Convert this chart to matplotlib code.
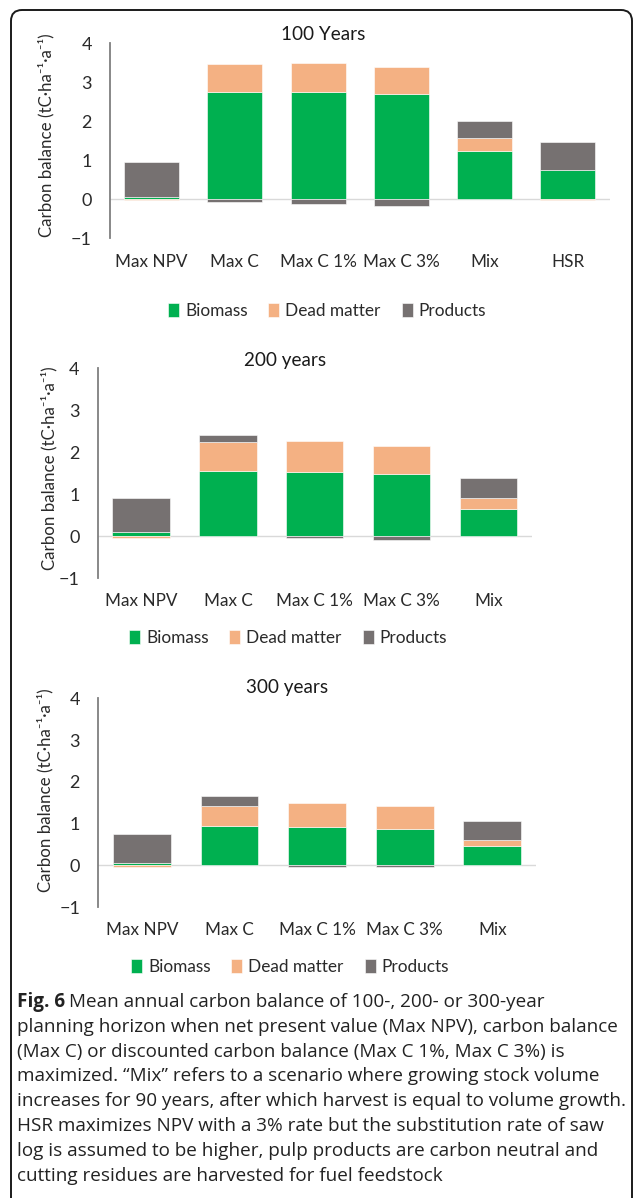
import matplotlib
matplotlib.use("Agg")
import matplotlib.pyplot as plt
import numpy as np
from matplotlib.patches import FancyBboxPatch
from matplotlib.transforms import IdentityTransform

plt.rcParams['font.family'] = ['Lato', 'DejaVu Sans']

# Carbon balance components (tC/ha/a) per scenario, three planning horizons
scen_100 = ["Max NPV", "Max C", "Max C 1%", "Max C 3%", "Mix", "HSR"]
biomass_100 = [0.07, 2.76, 2.76, 2.70, 1.24, 0.75]
dead_100 = [-0.03, 0.70, 0.73, 0.70, 0.32, -0.03]
products_100 = [0.88, -0.07, -0.12, -0.18, 0.45, 0.73]

scen_200 = ["Max NPV", "Max C", "Max C 1%", "Max C 3%", "Mix"]
biomass_200 = [0.10, 1.55, 1.52, 1.47, 0.65]
dead_200 = [-0.05, 0.70, 0.74, 0.68, 0.25]
products_200 = [0.80, 0.17, -0.05, -0.10, 0.49]

scen_300 = ["Max NPV", "Max C", "Max C 1%", "Max C 3%", "Mix"]
biomass_300 = [0.06, 0.94, 0.91, 0.88, 0.45]
dead_300 = [-0.04, 0.48, 0.58, 0.53, 0.16]
products_300 = [0.68, 0.25, -0.04, -0.04, 0.44]

series_names = ["Biomass", "Dead matter", "Products"]
colors = ["#00B050", "#F4B183", "#767171"]

W, H = 633, 1198
fig = plt.figure(figsize=(W / 100, H / 100), dpi=100)

TXT = "#2A2A2A"


def px_axes(x0, x1, ytop, ybot):
    return fig.add_axes([x0 / W, 1 - ybot / H, (x1 - x0) / W, (ybot - ytop) / H])


def stacked(ax, cats, data, width):
    x = np.arange(len(cats))
    pos = np.zeros(len(cats))
    neg = np.zeros(len(cats))
    for vals, name, col in zip(data, series_names, colors):
        vals = np.array(vals)
        bottom = np.where(vals >= 0, pos, neg)
        ax.bar(x, vals, width, bottom=bottom, color=col, label=name,
               edgecolor="white", linewidth=0.4)
        pos = pos + np.clip(vals, 0, None)
        neg = neg + np.clip(vals, None, 0)
    ax.axhline(0, color="#D9D9D9", lw=1.0, zorder=0)
    ax.set_xlim(-0.5, len(cats) - 0.5)
    ax.set_ylim(-1, 4)
    ax.set_yticks([-1, 0, 1, 2, 3, 4])
    ax.set_xticks(x)
    ax.set_xticklabels(cats)
    for s in ["top", "right", "bottom"]:
        ax.spines[s].set_visible(False)
    ax.spines["left"].set_color("#7F7F7F")
    ax.spines["left"].set_linewidth(1.3)
    ax.tick_params(axis="y", length=0, pad=13, labelsize=13, labelcolor=TXT)
    ax.tick_params(axis="x", length=0, pad=11, labelsize=12.3, labelcolor=TXT)


panels = [
    (scen_100, [biomass_100, dead_100, products_100], (110, 609.5, 43.3, 238.3),
     "100 Years", (323, 34.7), (46, 135), (327, 310.7)),
    (scen_200, [biomass_200, dead_200, products_200], (97.7, 531.7, 368.3, 578),
     "200 years", (285, 360.7), (49, 468), (288, 637.7)),
    (scen_300, [biomass_300, dead_300, products_300], (98.1, 536, 698.3, 907),
     "300 years", (287, 688), (45, 790), (290, 966.7)),
]

for cats, data, box, title, tpos, ypos, lpos in panels:
    ax = px_axes(*box)
    stacked(ax, cats, data, 0.66)
    fig.text(tpos[0] / W, 1 - tpos[1] / H, title, ha="center", va="center",
             fontsize=13.6, color="#1A1A1A")
    fig.text(ypos[0] / W, 1 - ypos[1] / H, "Carbon balance (tC·ha⁻¹·a⁻¹)",
             rotation=90, ha="center", va="center", fontsize=12.2, color=TXT)
    ax.legend(loc="center", bbox_to_anchor=(lpos[0] / W, 1 - lpos[1] / H),
              bbox_transform=fig.transFigure, ncol=3, frameon=False,
              fontsize=12.4, handlelength=0.65, handleheight=0.85,
              handletextpad=0.35, columnspacing=1.2, labelcolor=TXT)

# caption
cap_lines = [
    "Mean annual carbon balance of 100-, 200- or 300-year",
    "planning horizon when net present value (Max NPV), carbon balance",
    "(Max C) or discounted carbon balance (Max C 1%, Max C 3%) is",
    "maximized. \u201cMix\u201d refers to a scenario where growing stock volume",
    "increases for 90 years, after which harvest is equal to volume growth.",
    "HSR maximizes NPV with a 3% rate but the substitution rate of saw",
    "log is assumed to be higher, pulp products are carbon neutral and",
    "cutting residues are harvested for fuel feedstock",
]
x0, y0, dy = 17, 1001.7, 24.9
r = fig.canvas.get_renderer()

# size the caption so the widest line runs to the right margin
probe = fig.text(0, 0, cap_lines[4], family=["Open Sans", "DejaVu Sans"], fontsize=12)
cap_size = 12 * (622 - x0) / probe.get_window_extent(r).width
probe.remove()

cap_font = dict(family=["Open Sans", "DejaVu Sans"], fontsize=cap_size, color="#222222")
bold = fig.text(x0 / W, 1 - y0 / H, "Fig. 6", ha="left", va="center",
                fontweight="bold", **cap_font)
bw = bold.get_window_extent(r).width
fig.text((x0 + bw + 4) / W, 1 - y0 / H, cap_lines[0], ha="left", va="center", **cap_font)
for i, line in enumerate(cap_lines[1:], start=1):
    fig.text(x0 / W, 1 - (y0 + i * dy) / H, line, ha="left", va="center", **cap_font)

# rounded frame around the figure panel
frame = FancyBboxPatch((11, -30), 632 - 11, H - 10 + 30,
                       boxstyle="round,pad=0,rounding_size=11",
                       transform=IdentityTransform(), fill=False,
                       edgecolor="#1A1A1A", linewidth=1.4)
fig.patches.append(frame)

fig.savefig("out.png", dpi=100)
